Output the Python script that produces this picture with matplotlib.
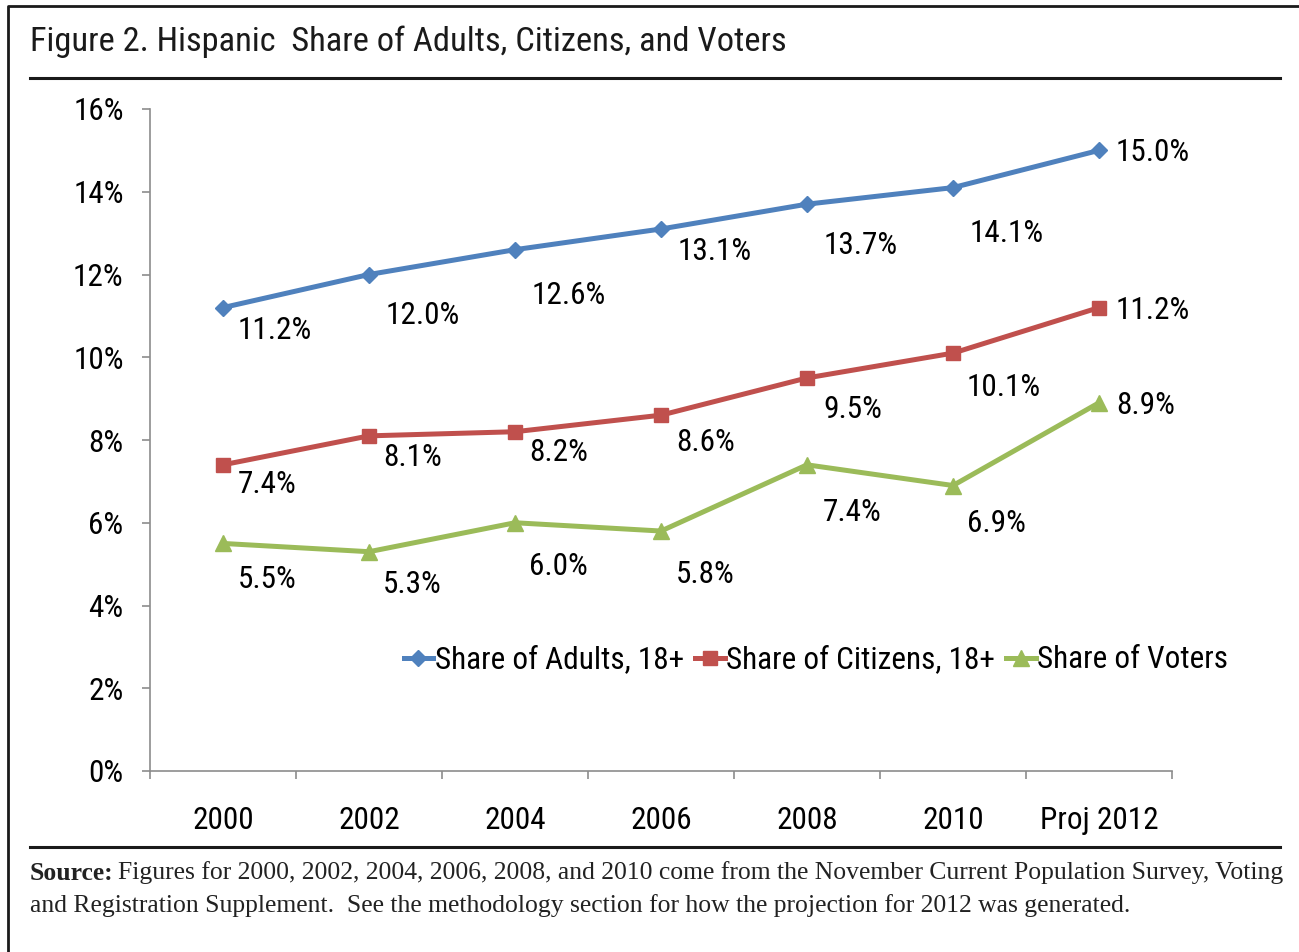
import matplotlib
matplotlib.use("Agg")
import matplotlib.pyplot as plt
from matplotlib.lines import Line2D
from matplotlib import font_manager as fm
import numpy as np

# ---- data ----
categories = ["2000", "2002", "2004", "2006", "2008", "2010", "Proj 2012"]
adults = [11.2, 12.0, 12.6, 13.1, 13.7, 14.1, 15.0]
citizens = [7.4, 8.1, 8.2, 8.6, 9.5, 10.1, 11.2]
voters = [5.5, 5.3, 6.0, 5.8, 7.4, 6.9, 8.9]
series_names = ["Share of Adults, 18+", "Share of Citizens, 18+", "Share of Voters"]
y_ticks = [0, 2, 4, 6, 8, 10, 12, 14, 16]
title = "Figure 2. Hispanic  Share of Adults, Citizens, and Voters"
src1 = ("Figures for 2000, 2002, 2004, 2006, 2008, and 2010 come from the November "
        "Current Population Survey, Voting")
src2 = ("and Registration Supplement.  See the methodology section for how the "
        "projection for 2012 was generated.")

# ---- style ----
W, H = 1299, 952
names = {f.name for f in fm.fontManager.ttflist}
SANS = "Liberation Sans"
for cand in ["Liberation Sans Narrow", "Arial Narrow", "Roboto Condensed",
             "Noto Sans Condensed", "Open Sans Condensed"]:
    if cand in names:
        SANS = cand
        break
FONT = [SANS, "DejaVu Sans"]
SERIF = ["Liberation Serif", "DejaVu Serif"]
plt.rcParams['font.family'] = FONT
colors = ["#4F81BD", "#C0504D", "#9BBB59"]
markers = ["D", "s", "^"]
msizes = [8.5, 10, 11]

# label offsets (pixels) relative to each point
off_adults = [(15, -23), (17, -41), (17, -46), (17, -23), (17, -41), (17, -46), (17, -2)]
off_cit = [(15, -20), (14, -22), (14, -21), (15, -27), (16, -32), (14, -34), (17, -3)]
off_vot = [(15, -36), (14, -33), (14, -44), (15, -43), (16, -48), (14, -38), (17, -3)]

fig = plt.figure(figsize=(W / 100, H / 100), dpi=100)
r = fig.canvas.get_renderer()


def fx(px):
    return px / W


def fy(py):
    return 1 - py / H


def fit_size(text, target_px, family, weight='normal', base=20.0):
    t = fig.text(0, 0, text, fontsize=base, family=family, weight=weight)
    w = t.get_window_extent(r).width
    t.remove()
    return base * target_px / w


FS = fit_size("Share of Citizens, 18+", 269, FONT)
FS_TITLE = fit_size(title, 755, FONT)
FS_SRC = fit_size("Source: " + src1, 1250, SERIF)

ax = fig.add_axes([fx(150), fy(771), fx(1172) - fx(150), fy(109) - fy(771)])
x = np.arange(len(categories))

all_series = [adults, citizens, voters]
all_offs = [off_adults, off_cit, off_vot]
for vals, c, m, ms, name, offs in zip(all_series, colors, markers, msizes, series_names, all_offs):
    ax.plot(x, vals, color=c, lw=3.6, marker=m, ms=ms, mec=c, mfc=c, label=name,
            solid_capstyle='round', clip_on=False)
    for xi, v, (dx, dy) in zip(x, vals, offs):
        ax.annotate(f"{v:.1f}%", (xi, v), xytext=(dx, dy), textcoords='offset pixels',
                    ha='left', va='center', fontsize=FS, color='black')

ax.set_xlim(-0.5, len(categories) - 0.5)
ax.set_ylim(0, 16)
ax.set_yticks(y_ticks)
ax.set_yticklabels([f"{t}%" for t in y_ticks], fontsize=FS)
ax.set_xticks(x)
ax.set_xticklabels(categories, fontsize=FS)
ax.set_xticks(np.arange(-0.5, len(categories), 1.0), minor=True)
ax.tick_params(axis='x', which='major', length=0, pad=25)
ax.tick_params(axis='x', which='minor', length=6, width=1.2, color='#8c8c8c', direction='out')
ax.tick_params(axis='y', length=6, width=1.2, color='#8c8c8c', direction='out', pad=13)
for s in ['top', 'right']:
    ax.spines[s].set_visible(False)
for s in ['left', 'bottom']:
    ax.spines[s].set_color('#8c8c8c')
    ax.spines[s].set_linewidth(1.2)

handles = [Line2D([0], [0], color=c, lw=3.6, marker=m, ms=ms, mec=c, mfc=c)
           for c, m, ms in zip(colors, markers, msizes)]
fig.legend(handles, series_names, loc='center', bbox_to_anchor=(fx(816), fy(660)),
           ncol=3, frameon=False, fontsize=FS, handlelength=0.95, handletextpad=0.05,
           columnspacing=0.35, borderpad=0, borderaxespad=0)

# title and rules
fig.text(fx(30), fy(42), title, fontsize=FS_TITLE, ha='left', va='center', color='#1a1a1a')
fig.add_artist(Line2D([fx(30), fx(1280)], [fy(78), fy(78)], color='#1a1a1a', lw=2.2))
fig.add_artist(Line2D([fx(30), fx(1280)], [fy(847), fy(847)], color='#1a1a1a', lw=2.2))
# border
fig.add_artist(Line2D([fx(8), fx(8), fx(1299)], [fy(952), fy(6), fy(6)], color='#1a1a1a', lw=2.0))

# source text
t1 = fig.text(fx(30), fy(873), "Source:", fontsize=FS_SRC, family=SERIF, weight='bold',
              ha='left', va='center', color='#222222')
bb = t1.get_window_extent(r)
fig.text(fx(bb.x1 + 4), fy(873), src1, fontsize=FS_SRC, family=SERIF, ha='left', va='center',
         color='#222222')
fig.text(fx(30), fy(906), src2, fontsize=FS_SRC, family=SERIF, ha='left', va='center',
         color='#222222')

fig.savefig("out.png", dpi=100)
